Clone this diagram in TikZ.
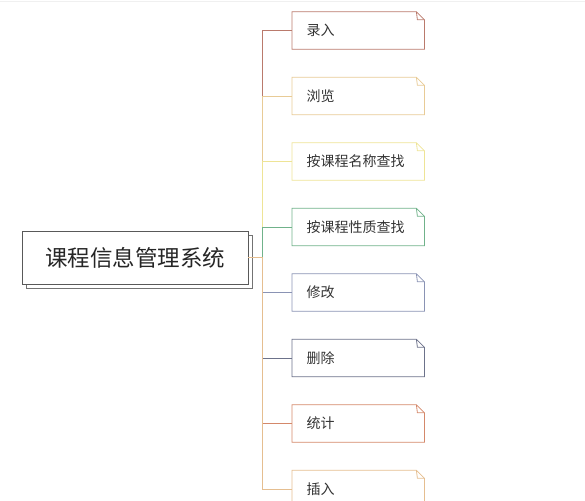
\documentclass[tikz,border=0pt]{standalone}
\usepackage{fontspec}
\setmainfont{Noto Sans CJK SC}
\usetikzlibrary{positioning, calc, shadows}

\begin{document}
\begin{tikzpicture}[x=1pt, y=-1pt,
        leaf/.style={minimum height=37pt, text width=103pt, inner xsep=14.5pt,
            align=left, anchor=west, text=black!80, font=\fontsize{14}{16}\selectfont},
        link/.style={line width=0.8pt}]
        % Màu sắc
        \definecolor{cLuru}{RGB}{186,122,108}
        \definecolor{cLiulan}{RGB}{232,203,150}
        \definecolor{cMing}{RGB}{238,228,150}
        \definecolor{cXing}{RGB}{112,178,138}
        \definecolor{cXiu}{RGB}{138,147,180}
        \definecolor{cShan}{RGB}{108,114,138}
        \definecolor{cTong}{RGB}{212,136,106}
        \definecolor{cCha}{RGB}{229,190,144}

        \useasboundingbox (0,0) rectangle (585,500);
        \clip (0,0) rectangle (585,500);
        \draw[black!6] (0,1.5) -- (585,1.5);

        % 1. Hộp chính
        \node[draw=black!65, fill=white, line width=0.8pt,
              copy shadow={shadow xshift=4pt, shadow yshift=-4pt, draw=black!55, fill=white},
              minimum width=226pt, minimum height=53pt, inner sep=0pt,
              text=black!85, font=\fontsize{22.5}{26}\selectfont] (sys) at (135,257.5) {课程信息管理系统};

        % 2. Các nút con và đường nối
        \foreach \txt/\col [count=\i from 0] in {录入/cLuru, 浏览/cLiulan, 按课程名称查找/cMing,
                按课程性质查找/cXing, 修改/cXiu, 删除/cShan, 统计/cTong, 插入/cCha} {
            \pgfmathsetmacro\yc{30.5+65.5*\i}
            \node[leaf] (n\i) at (292,\yc) {\txt};
            % Khung có góc gấp
            \draw[link, \col] (n\i.north west) -- ([xshift=-8pt]n\i.north east)
                -- ([yshift=-8pt]n\i.north east) -- (n\i.south east) -- (n\i.south west) -- cycle;
            \draw[link, \col] ([xshift=-8pt]n\i.north east) -- ([xshift=-7pt, yshift=-8pt]n\i.north east)
                -- ([yshift=-8pt]n\i.north east);
            \draw[link, \col] (sys.east) -- ++(14,0) |- (n\i.west);
        }
    \end{tikzpicture}
\end{document}
